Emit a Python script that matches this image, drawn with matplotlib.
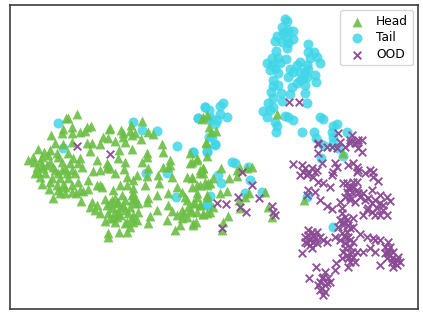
import numpy as np
import matplotlib
matplotlib.use("Agg")
import matplotlib.pyplot as plt

# embedding coordinates (arbitrary units, y grows downward)
head = np.array([
    (230,342),(203,353),(197,355),(190,388),(215,380),(185,400),(215,400),(240,395),(262,380),(272,378),
    (255,392),(330,383),(326,388),(362,390),(393,375),(427,363),(390,392),(405,400),(445,395),(460,402),
    (152,406),(165,430),(190,432),(215,425),(260,430),(275,430),(300,433),(310,410),(325,415),(345,422),
    (370,410),(375,425),(423,418),(487,433),(489,457),(440,460),(397,447),(357,450),(355,475),(270,452),
    (113,448),(133,455),(150,450),(145,465),(170,460),(205,460),(218,475),(240,475),(85,480),(103,485),
    (120,482),(150,485),(185,485),(110,500),(130,505),(165,510),(195,505),(215,510),(245,502),(105,520),
    (120,530),(150,545),(175,520),(205,535),(225,520),(125,552),(148,568),(170,555),(190,555),(215,555),
    (235,545),(265,540),(158,595),(180,580),(195,580),(228,580),(250,572),(265,568),(242,602),(290,480),
    (300,510),(320,505),(280,513),(345,520),(375,485),(373,508),(425,485),(445,505),(510,480),(505,500),
    (490,500),(380,532),(410,525),(440,528),(473,525),(515,530),(290,555),(305,562),(360,555),(380,555),
    (400,565),(435,555),(478,550),(470,585),(400,580),(340,570),(345,595),(315,598),(365,585),(395,600),
    (445,595),(505,580),(530,560),(545,575),(555,590),(575,532),(560,530),(600,510),(610,505),(570,460),
    (590,475),(570,490),(600,555),(625,550),(575,560),(590,590),(275,605),(290,615),(270,620),(285,630),
    (300,640),(320,615),(335,625),(325,640),(350,610),(370,615),(390,620),(415,610),(385,640),(360,645),
    (345,635),(315,663),(345,665),(380,665),(400,665),(450,648),(470,630),(445,670),(503,615),(515,632),
    (545,630),(570,630),(600,615),(610,642),(630,635),(500,660),(545,655),(540,675),(525,690),(580,670),
    (325,700),(323,710),(357,697),(380,695),(440,605),(400,645),(415,635),(340,655),(375,670),(530,645),
    (125,470),(140,495),(115,515),(175,470),(200,520),(235,490),(160,500),(180,535),(320,490),(400,540),
    (395,585),(330,610),(360,620),(350,650),(375,630),(395,655),(405,610),(440,470),(510,495),(560,600),
    (100,470),(125,495),(135,520),(185,510),(210,490),(155,535),(195,560),(240,570),(215,575),(175,570),
    (330,505),(325,495),(300,555),(335,600),(355,605),(375,600),(405,595),(355,640),(330,655),(390,680),
    (410,660),(565,620),(590,635),(550,640),(560,650),(585,610),(620,590),(395,405),(370,400),(600,520),
    (610,352),(622,345),(605,357),(627,382),(648,392),(633,397),(617,425),(830,343),
    (617,428),(622,467),(575,485),(590,480),(662,505),(608,505),(610,520),(720,505),(710,510),(742,505),
    (755,502),(710,528),(688,535),(575,535),(615,545),(640,535),(630,550),(590,555),(620,555),(680,572),
    (660,580),(620,585),(590,580),(748,578),(795,575),(735,590),(718,600),(578,610),(600,615),(638,620),
    (720,625),(805,620),(575,635),(610,642),(620,640),(685,648),(815,650),(670,665),(588,665),(578,675),
    (665,690),(912,600),(1030,458),
])

tail = np.array([
    (855,58),(860,63),(845,82),(865,90),(878,93),(832,108),(850,100),(860,115),(880,118),(825,122),
    (845,125),(865,130),(860,143),(828,152),(923,132),(925,155),(942,155),(930,175),(950,172),(960,190),
    (800,190),(815,175),(835,175),(858,178),(815,195),(825,205),(835,220),(870,207),(900,187),(890,195),
    (920,195),(900,215),(915,215),(925,208),(945,225),(865,232),(910,235),(820,240),(915,255),(948,247),
    (890,250),(875,260),(915,278),(820,258),(835,255),(813,277),(842,278),(870,283),(820,295),(805,310),
    (845,303),(922,310),(820,320),(788,333),(810,330),(800,350),(855,348),(865,350),(880,360),(825,365),
    (830,378),(828,397),(960,352),(968,356),(905,395),(942,397),(947,413),(1000,378),(1012,372),(995,395),
    (1000,412),(1040,397),(615,320),(660,318),(670,310),(628,330),(660,343),(680,352),(595,355),(632,355),
    (650,360),(645,372),(635,410),(645,433),(880,215),(920,230),(840,190),(810,210),(900,240),(855,95),
    (645,434),(622,455),(695,485),(705,488),(745,502),(655,525),(663,550),(750,540),(630,588),(785,575),
    (618,615),(735,580),(922,592),(1000,682),(578,455),(962,475),(1030,468),(1015,445),(970,435),(1000,428),
    (175,368),(400,365),(427,390),(472,393),(531,437),(190,445),(578,455),(622,452),(615,320),(595,355),
    (630,360),(628,410),(500,520),(437,520),(529,590),(620,615),(625,615),
])

ood = np.array([
    (867,307),(898,307),(1015,400),(1055,405),(1075,420),(1050,420),(1065,430),(1085,420),(955,432),(995,442),
    (1020,425),(1035,440),(1075,445),
    (955,430),(980,440),(1010,445),(1050,430),(1070,425),(1085,455),(955,458),(965,490),(1005,490),(1070,500),
    (1070,515),(1120,515),(1095,520),(1135,542),(880,492),(905,495),(915,505),(935,505),(945,515),(900,525),
    (920,525),(940,530),(1000,515),(995,525),(970,550),(990,560),(955,545),(1030,550),(1060,545),(1050,560),
    (1040,575),(1070,570),(1090,580),(1115,570),(1140,585),(1160,590),(1050,600),(1020,605),(1025,625),(1080,590),
    (1105,595),(1115,610),(1140,610),(1170,602),(925,570),(920,585),(945,575),(960,600),(980,618),(995,628),
    (1100,630),(1090,645),(1115,635),(1140,645),(1160,645),(1020,660),(1040,660),(1060,655),(1015,680),(1050,685),
    (1030,675),(1005,710),(1020,720),(1035,730),(1050,740),(1040,765),(1060,770),(1025,775),(1050,785),(1045,800),
    (1008,790),(1005,810),(1080,703),(1100,710),(1120,715),(1140,720),(1165,725),(1110,745),(1090,755),(1125,755),
    (1165,750),(1170,765),(1160,775),(1195,770),(1185,790),(1140,795),(1175,785),(1190,795),(935,695),(950,695),
    (915,710),(930,720),(945,715),(920,730),(935,745),(970,720),(980,725),(905,758),(948,802),(927,835),
    (975,815),(970,830),(960,845),(980,850),(965,865),(970,885),(990,845),(955,855),
    (725,515),(755,555),(778,595),(713,590),(720,620),(737,635),(652,610),(677,613),(815,617),(820,635),
    (825,645),(665,685),(1040,550),(1055,575),(1070,545),(1035,710),(1050,720),
    (232,437),(330,462),
    # denser parts of the right cluster
    (1045,565),(1060,560),(1075,580),(1050,590),(1065,605),(1035,590),(1095,600),(1125,600),(1130,625),(1105,625),
    (1150,615),(1125,645),(1150,630),(1035,650),(1025,640),(1030,665),(1045,675),(1060,680),(1040,695),(1025,700),
    (1045,710),(1060,725),(1035,745),(1055,755),(1030,755),(1045,775),(1065,785),(925,705),(940,705),(930,735),
    (950,730),(915,725),(940,725),(925,690),(960,710),(1170,740),(1180,755),(1165,760),(1155,740),(1175,775),
    (1190,780),(1200,785),(1155,760),(1180,800),(965,835),(975,855),(985,835),(960,870),(975,875),(1070,755),
    (1045,495),(1060,490),(1075,510),(1120,530),(1110,510),(925,520),(950,510),(910,515),(1010,500),(1125,720),
])

labels = ["Head", "Tail", "OOD"]
colors = ["#6cbf45", "#40d6e8", "#8a4a94"]

fig = plt.figure(figsize=(4.23, 3.19), dpi=100)
ax = fig.add_axes([10 / 423, 1 - 309 / 319, 408 / 423, 304 / 319])

# the triangles sit over the circles in the picture, the legend keeps the order
ax.scatter(head[:, 0], head[:, 1], marker="^", s=50, c=colors[0], alpha=0.9, linewidths=0, zorder=3, label=labels[0])
ax.scatter(tail[:, 0], tail[:, 1], marker="o", s=52, c=colors[1], alpha=0.85, linewidths=0, zorder=2, label=labels[1])
ax.scatter(ood[:, 0], ood[:, 1], marker="x", s=30, c=colors[2], alpha=0.95, linewidths=1.4, zorder=4, label=labels[2])

ax.set_xlim(30, 1254)
ax.set_ylim(927, 15)
ax.set_xticks([])
ax.set_yticks([])
for s in ax.spines.values():
    s.set_color("#3c3c3c")
    s.set_linewidth(1.2)

ax.legend(loc="upper right", fontsize=8.8, borderaxespad=0.45, handletextpad=0.6, labelspacing=0.3,
          borderpad=0.35)
fig.savefig("out.png", dpi=100)
